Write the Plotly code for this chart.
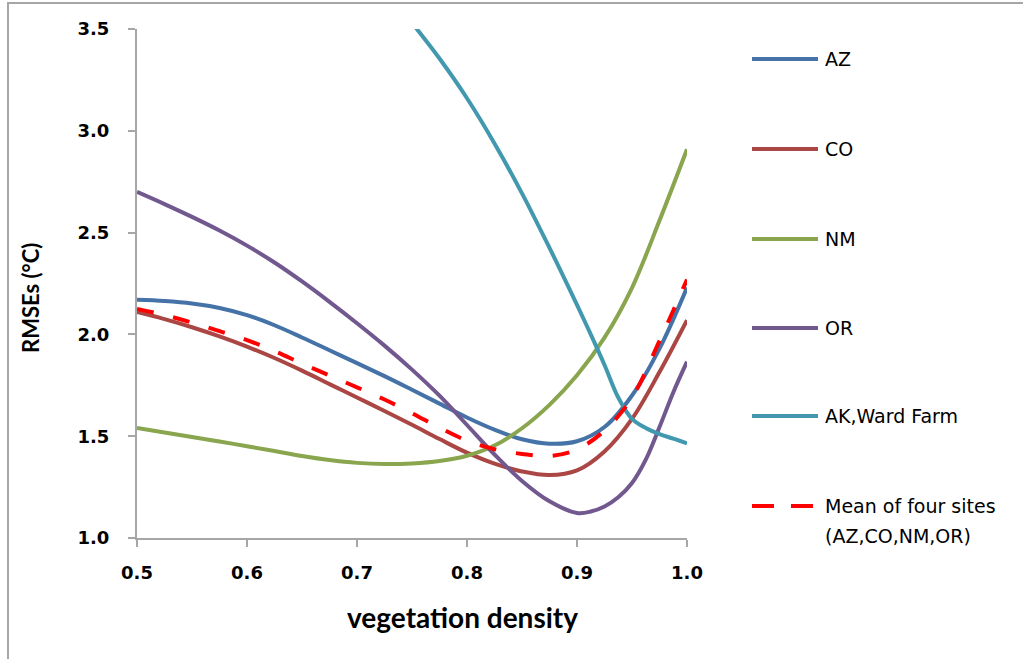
import plotly.graph_objects as go

# vegetation density samples
density = [0.5, 0.525, 0.55, 0.575, 0.6, 0.625, 0.65, 0.675, 0.7, 0.725, 0.75,
           0.775, 0.8, 0.825, 0.85, 0.875, 0.9, 0.925, 0.95, 0.975, 1.0]

rmse_az = [2.17, 2.164, 2.152, 2.13, 2.095, 2.045, 1.985, 1.922, 1.859, 1.795, 1.728,
           1.66, 1.592, 1.532, 1.485, 1.463, 1.475, 1.545, 1.70, 1.93, 2.23]
rmse_co = [2.11, 2.075, 2.035, 1.99, 1.94, 1.884, 1.822, 1.756, 1.69, 1.624, 1.556,
           1.486, 1.419, 1.365, 1.327, 1.309, 1.332, 1.425, 1.585, 1.815, 2.07]
rmse_nm = [1.54, 1.518, 1.496, 1.474, 1.451, 1.427, 1.403, 1.383, 1.369, 1.363, 1.366,
           1.378, 1.404, 1.454, 1.539, 1.654, 1.799, 1.984, 2.229, 2.559, 2.909]
rmse_mean = [2.125, 2.095, 2.058, 2.016, 1.972, 1.918, 1.857, 1.798, 1.74, 1.68, 1.613,
             1.542, 1.478, 1.436, 1.413, 1.403, 1.435, 1.528, 1.69, 1.968, 2.27]

density_or = [0.5, 0.525, 0.55, 0.575, 0.6, 0.625, 0.65, 0.675, 0.7, 0.725, 0.75,
              0.775, 0.8, 0.825, 0.85, 0.875, 0.9, 0.9125, 0.925, 0.9375, 0.95,
              0.9625, 0.975, 0.9875, 1.0]
rmse_or = [2.70, 2.64, 2.577, 2.51, 2.436, 2.353, 2.26, 2.16, 2.055, 1.945, 1.827,
           1.699, 1.555, 1.41, 1.28, 1.18, 1.123, 1.13, 1.155, 1.20, 1.27,
           1.385, 1.545, 1.715, 1.866]

density_ak = [0.75, 0.775, 0.8, 0.825, 0.85, 0.875, 0.9, 0.9125, 0.925, 0.9375,
              0.95, 0.9625, 0.975, 0.9875, 1.0]
rmse_ak = [3.53, 3.355, 3.16, 2.938, 2.693, 2.425, 2.145, 2.0, 1.85, 1.69,
           1.585, 1.54, 1.51, 1.488, 1.465]

x_ticks = [0.5, 0.6, 0.7, 0.8, 0.9, 1.0]
y_ticks = [1.0, 1.5, 2.0, 2.5, 3.0, 3.5]

series = [
    ("AZ", density, rmse_az, "#4572A7", None),
    ("CO", density, rmse_co, "#AA4643", None),
    ("NM", density, rmse_nm, "#89A54E", None),
    ("OR", density_or, rmse_or, "#71588F", None),
    ("AK,Ward Farm", density_ak, rmse_ak, "#4198AF", None),
    ("Mean of four sites<br>(AZ,CO,NM,OR)", density, rmse_mean, "#FF0000", "17px,20px"),
]

W, H = 1023, 659
L, R, T, B = 137, 336, 29, 121
PW, PH = W - L - R, H - T - B


def px(x):
    return (x - L) / PW


def py(y):
    return (H - B - y) / PH


fig = go.Figure()
for name, xs, ys, color, dash in series:
    fig.add_trace(go.Scatter(
        x=xs, y=ys, mode="lines", name=name,
        line=dict(color=color, width=4, shape="spline", smoothing=1,
                  dash=dash if dash else "solid"),
        showlegend=False,
    ))

axis_col = "#A6A6A6"
tick_font = dict(family="DejaVu Sans", size=18, color="#000000", weight="bold")

fig.update_xaxes(
    range=[0.5, 1.0], tickvals=x_ticks, ticktext=[f"{v:.1f}" for v in x_ticks],
    showgrid=False, zeroline=False, showline=True, linecolor=axis_col, linewidth=2,
    ticks="outside", ticklen=7, tickwidth=2, tickcolor=axis_col,
    tickfont=tick_font, ticklabelstandoff=10,
)
fig.update_yaxes(
    range=[1.0, 3.5], tickvals=y_ticks, ticktext=[f"{v:.1f}" for v in y_ticks],
    showgrid=False, zeroline=False, showline=True, linecolor=axis_col, linewidth=2,
    ticks="outside", ticklen=7, tickwidth=2, tickcolor=axis_col,
    tickfont=tick_font, ticklabelstandoff=15,
)

annotations = [
    dict(text="vegetation density", x=px(462), y=py(617), xref="paper", yref="paper",
         showarrow=False, xanchor="center", yanchor="middle",
         font=dict(family="Lato", size=28, color="#000000", weight="bold")),
    dict(text="RMSEs (°C)", x=px(30), y=py(298), xref="paper", yref="paper",
         showarrow=False, xanchor="center", yanchor="middle", textangle=-90,
         font=dict(family="Lato", size=22, color="#000000", weight="bold")),
]

shapes = [
    dict(type="rect", xref="paper", yref="paper",
         x0=px(8), y0=py(3), x1=px(1040), y1=py(680),
         line=dict(color="#A6A6A6", width=2), layer="below"),
]

# legend drawn at fixed pixel positions
legend_rows = [59, 149, 239, 328, 416, 506]
for (name, _, _, color, dash), row in zip(series, legend_rows):
    if dash:
        shapes.append(dict(type="line", xref="paper", yref="paper",
                           x0=px(752), x1=px(813), y0=py(row), y1=py(row),
                           line=dict(color=color, width=4, dash="22px,17px")))
    else:
        shapes.append(dict(type="line", xref="paper", yref="paper",
                           x0=px(752), x1=px(818), y0=py(row), y1=py(row),
                           line=dict(color=color, width=4)))
    lines = name.split("<br>")
    for i, part in enumerate(lines):
        annotations.append(dict(
            text=part, x=px(823), y=py(row + 30 * i), xref="paper", yref="paper",
            showarrow=False, xanchor="left", yanchor="middle",
            font=dict(family="DejaVu Sans", size=19, color="#000000"),
        ))

fig.update_layout(
    width=W, height=H,
    margin=dict(l=L, r=R, t=T, b=B, autoexpand=False),
    paper_bgcolor="#FFFFFF", plot_bgcolor="#FFFFFF",
    showlegend=False,
    annotations=annotations, shapes=shapes,
)

fig.write_html("out.html")
